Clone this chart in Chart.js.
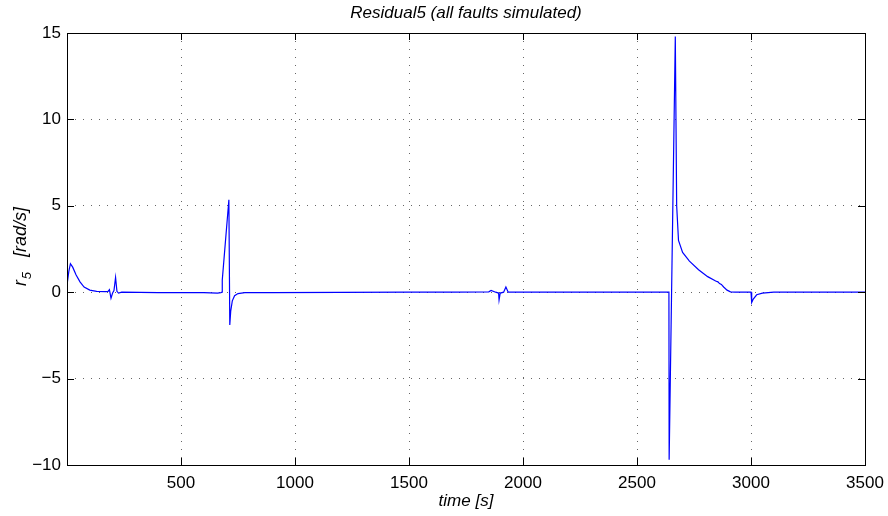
<!DOCTYPE html>
<html>
<head>
<meta charset="utf-8">
<title>Residual5</title>
<script src="https://cdn.jsdelivr.net/npm/chart.js@4/dist/chart.umd.min.js"></script>
<style>
  body { margin: 0; background: #fff; }
  canvas { display: block; }
</style>
</head>
<body>
<canvas id="residuo" width="888" height="516"></canvas>
<script>
// Residuo r5 frente al tiempo (todos los fallos simulados)
var tiempo = [0, 8, 15, 25, 40, 57, 75, 100, 130, 170, 180, 186, 193, 200, 206, 213, 219, 226, 240,
  400, 600, 660, 675, 680, 681, 710, 714, 718, 725, 735, 750, 780, 900, 1200, 1500, 1700,
  1850, 1860, 1880, 1893, 1895, 1900, 1915, 1925, 1935, 1950, 2300, 2640, 2641, 2668,
  2674, 2682, 2700, 2730, 2770, 2810, 2845, 2855, 2862, 2870, 2880, 2895, 2910, 2930,
  3000, 3003, 3010, 3025, 3050, 3100, 3500];
var r5 = [0.4, 1.2, 1.65, 1.45, 1.0, 0.6, 0.3, 0.12, 0.05, 0.03, 0.05, 0.15, -0.35, -0.05, 0.1, 0.85, 0.05, -0.05, 0.0,
  -0.02, -0.02, -0.05, -0.02, 0.0, 0.7, 5.35, -1.9, -1.1, -0.5, -0.2, -0.08, -0.03, -0.02, -0.01, 0, 0,
  0.02, 0.1, 0.0, -0.05, -0.45, -0.05, 0.0, 0.3, 0.0, 0.0, 0, 0, -9.7, 14.8,
  5.0, 3.0, 2.3, 1.8, 1.3, 0.9, 0.65, 0.6, 0.5, 0.45, 0.3, 0.12, 0.02, 0,
  0, -0.6, -0.4, -0.15, -0.05, 0, 0];

var ticksX = [500, 1000, 1500, 2000, 2500, 3000, 3500];
var ticksY = [-10, -5, 0, 5, 10, 15];

var titulo = 'Residual5 (all faults simulated)';
var etiquetaX = 'time [s]';

var fuente = '"Liberation Sans", Arial, Helvetica, sans-serif';

var puntos = [];
for (let i = 0; i < tiempo.length; i++) {
  puntos.push({x: tiempo[i], y: r5[i]});
}

// Caja, marcas hacia dentro y textos estilo MATLAB
var marco = {
  id: 'marco',
  afterDraw: function(chart) {
    var ctx = chart.ctx;
    var a = chart.chartArea;
    var sx = chart.scales.x, sy = chart.scales.y;
    var largo = 7;

    ctx.save();
    ctx.strokeStyle = '#000';
    ctx.lineWidth = 1;
    ctx.beginPath();
    ticksX.forEach(function(v) {
      var px = Math.round(sx.getPixelForValue(v)) + 0.5;
      ctx.moveTo(px, a.bottom); ctx.lineTo(px, a.bottom - largo);
      ctx.moveTo(px, a.top); ctx.lineTo(px, a.top + largo);
    });
    ticksY.forEach(function(v) {
      var py = Math.round(sy.getPixelForValue(v)) + 0.5;
      ctx.moveTo(a.left, py); ctx.lineTo(a.left + largo, py);
      ctx.moveTo(a.right, py); ctx.lineTo(a.right - largo, py);
    });
    ctx.stroke();
    ctx.strokeRect(Math.round(a.left) + 0.5, Math.round(a.top) + 0.5,
      Math.round(a.right - a.left), Math.round(a.bottom - a.top));

    // titulo y eje x
    ctx.fillStyle = '#000';
    ctx.textAlign = 'center';
    ctx.textBaseline = 'middle';
    ctx.font = 'italic 17px ' + fuente;
    var cx = (a.left + a.right) / 2;
    ctx.fillText(titulo, cx, 13);
    ctx.fillText(etiquetaX, cx, 501);

    // eje y: r con subindice 5
    var cy = (a.top + a.bottom) / 2 - 2;
    ctx.translate(26, cy);
    ctx.rotate(-Math.PI / 2);
    ctx.textBaseline = 'alphabetic';
    ctx.textAlign = 'left';
    ctx.font = 'italic 18px ' + fuente;
    var wr = ctx.measureText('r').width;
    ctx.font = 'italic 13px ' + fuente;
    var w5 = ctx.measureText('5').width;
    ctx.font = 'italic 18px ' + fuente;
    var resto = '   [rad/s]';
    var wresto = ctx.measureText(resto).width;
    var x0 = -(wr + w5 + wresto) / 2;
    ctx.fillText('r', x0, 0);
    ctx.font = 'italic 13px ' + fuente;
    ctx.fillText('5', x0 + wr + 1, 5);
    ctx.font = 'italic 18px ' + fuente;
    ctx.fillText(resto, x0 + wr + w5 + 1, 0);
    ctx.restore();
  }
};

var chart = new Chart(document.getElementById('residuo'), {
  type: 'line',
  data: {
    datasets: [{
      data: puntos,
      borderColor: '#0000ff',
      borderWidth: 1.2,
      pointRadius: 0,
      tension: 0,
      fill: false
    }]
  },
  options: {
    responsive: false,
    animation: false,
    events: [],
    layout: { padding: { top: 33, right: 23, left: 0, bottom: 0 } },
    plugins: { legend: { display: false }, tooltip: { enabled: false } },
    scales: {
      x: {
        type: 'linear',
        min: 0, max: 3500,
        afterFit: function(s) { s.height = 51; s.paddingLeft = 0; s.paddingRight = 0; },
        afterBuildTicks: function(s) { s.ticks = [0].concat(ticksX).map(function(v) { return {value: v}; }); },
        grid: { color: 'rgba(0,0,0,0.6)', drawTicks: false, lineWidth: 1 },
        border: { display: false, dash: [1, 7] },
        ticks: {
          color: '#000', padding: 8, maxRotation: 0,
          font: { family: fuente, size: 17 },
          callback: function(v) { return v === 0 ? '' : String(v); }
        }
      },
      y: {
        type: 'linear',
        min: -10, max: 15,
        afterFit: function(s) { s.width = 67; s.paddingTop = 0; s.paddingBottom = 0; },
        afterBuildTicks: function(s) { s.ticks = ticksY.map(function(v) { return {value: v}; }); },
        grid: { color: 'rgba(0,0,0,0.6)', drawTicks: false, lineWidth: 1 },
        border: { display: false, dash: [1, 7] },
        ticks: {
          color: '#000', padding: 6,
          font: { family: fuente, size: 17 },
          callback: function(v) { return String(v).replace('-', '\u2212'); }
        }
      }
    }
  },
  plugins: [marco]
});
</script>
</body>
</html>
